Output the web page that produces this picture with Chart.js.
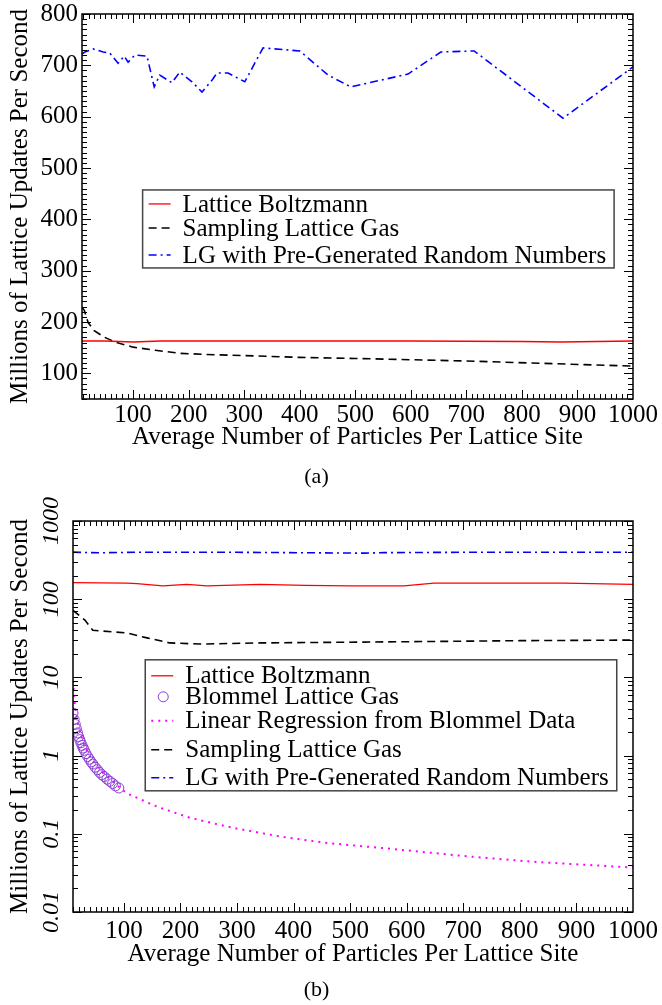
<!DOCTYPE html>
<html>
<head>
<meta charset="utf-8">
<script src="https://cdn.jsdelivr.net/npm/chart.js@4.4.1/dist/chart.umd.min.js"></script>
<style>
  body { margin: 0; background: #fff; }
  canvas { display: block; }
</style>
</head>
<body>
<canvas id="chartA" width="662" height="490"></canvas>
<canvas id="chartB" width="662" height="515"></canvas>
<script>
// ---- panel (a): linear axes ----
const xTicksA = [100, 200, 300, 400, 500, 600, 700, 800, 900, 1000];
const yTicksA = [100, 200, 300, 400, 500, 600, 700, 800];

const lbXA = [8, 50, 100, 150, 200, 400, 600, 800, 870, 1000];
const lbYA = [163, 163, 161, 163, 163, 163, 163, 162, 161, 163];

const slgXA = [8, 12, 19, 30, 49, 70, 100, 140, 184, 226, 346, 400, 500, 700, 1000];
const slgYA = [228, 223, 199, 183, 170, 160, 151, 145, 139, 137, 133, 131, 129, 124, 114];

const lgXA = [8, 13, 28, 46, 58, 73, 84, 91, 103, 125, 138, 148, 170, 184, 206, 224, 242, 251, 271, 301, 334, 400, 451, 492, 595, 654, 714, 874, 1000];
const lgYA = [722, 726, 732, 726, 724, 704, 718, 706, 720, 718, 658, 681, 666, 687, 668, 648, 671, 685, 685, 668, 734, 728, 681, 658, 683, 726, 728, 597, 697];

// ---- panel (b): log y axis ----
const xTicksB = [100, 200, 300, 400, 500, 600, 700, 800, 900, 1000];
const yTicksB = [0.01, 0.1, 1, 10, 100, 1000];
const yTickLabelsB = ['0.01', '0.1', '1', '10', '100', '1000'];

const lbXB = [10, 105, 123, 169, 211, 247, 341, 420, 500, 595, 648, 878, 1000];
const lbYB = [163, 161, 158, 148, 155, 148, 155, 150, 148, 148, 161, 161, 155];

const blomX = [10, 12, 14, 16, 18, 20, 22, 24, 26, 28, 30, 33, 36, 39, 42, 45, 49, 53, 57, 61, 65, 70, 75, 80, 85, 91];
const blomY = [3.5, 2.9, 2.5, 2.2, 1.95, 1.75, 1.6, 1.46, 1.35, 1.25, 1.17, 1.06, 0.97, 0.9, 0.83, 0.78, 0.71, 0.66, 0.61, 0.57, 0.54, 0.5, 0.47, 0.44, 0.41, 0.385];

const regX = [10, 12, 15, 20, 30, 40, 50, 60, 70, 80, 93, 105, 160, 217, 293, 381, 461, 555, 701, 820, 1000];
const regY = [9, 5.5, 3.5, 2.3, 1.35, 0.97, 0.77, 0.63, 0.54, 0.47, 0.39, 0.33, 0.22, 0.16, 0.119, 0.091, 0.076, 0.066, 0.052, 0.044, 0.037];

const slgXB = [10, 31, 45, 105, 141, 181, 235, 341, 600, 800, 1000];
const slgYB = [72, 54, 40, 37, 32, 27.6, 26.7, 27.6, 28.6, 29.5, 30];

const lgXB = [10, 55, 120, 300, 480, 524, 560, 700, 1000];
const lgYB = [400, 392, 398, 398, 390, 388, 394, 398, 398];

const FONT = "'Liberation Serif', 'DejaVu Serif', serif";

const pts = (xs, ys) => xs.map((x, i) => ({ x, y: ys[i] }));

// inward ticks on all four sides + frame
const frameTicks = {
    id: 'frameTicks',
    afterDraw(chart, args, opts) {
        const { ctx, chartArea: a, scales: { x, y } } = chart;
        ctx.save();
        ctx.strokeStyle = '#000';
        ctx.lineWidth = 1;
        const line = (x1, y1, x2, y2) => {
            ctx.beginPath(); ctx.moveTo(x1, y1); ctx.lineTo(x2, y2); ctx.stroke();
        };
        for (let v = 10; v <= 1000; v += 10) {
            const px = Math.round(x.getPixelForValue(v)) + 0.5;
            if (px < a.left || px > a.right) continue;
            const len = v % 100 === 0 ? 9 : 5;
            line(px, a.bottom, px, a.bottom - len);
            line(px, a.top, px, a.top + len);
        }
        for (const t of opts.yMinor()) {
            const py = Math.round(y.getPixelForValue(t.v)) + 0.5;
            if (py < a.top - 0.5 || py > a.bottom + 0.5) continue;
            const len = t.major ? 9 : 5;
            line(a.left, py, a.left + len, py);
            line(a.right, py, a.right - len, py);
        }
        ctx.lineWidth = 1.5;
        ctx.strokeRect(a.left, a.top, a.right - a.left, a.bottom - a.top);

        // rotated y tick labels (panel b)
        if (opts.rotLabels) {
            ctx.fillStyle = '#000';
            ctx.font = `italic 24px ${FONT}`;
            ctx.textAlign = 'center';
            ctx.textBaseline = 'middle';
            opts.rotLabels.values.forEach((v, i) => {
                const py = y.getPixelForValue(v);
                ctx.save();
                ctx.translate(a.left - 21, py);
                ctx.rotate(-Math.PI / 2);
                ctx.fillText(opts.rotLabels.text[i], 0, 0);
                ctx.restore();
            });
        }
        ctx.restore();
    }
};

// legend box placed inside the plot
const boxLegend = {
    id: 'boxLegend',
    afterDraw(chart, args, opts) {
        const { ctx, chartArea: a } = chart;
        const left = a.left + opts.left * (a.right - a.left);
        const top = a.top + opts.top * (a.bottom - a.top);
        const sets = chart.data.datasets;
        ctx.save();
        ctx.font = opts.font;
        let w = 0;
        sets.forEach(d => { w = Math.max(w, ctx.measureText(d.label).width); });
        const boxW = 40 + w + 8;
        ctx.fillStyle = '#fff';
        ctx.fillRect(left, top, boxW, opts.height);
        ctx.strokeStyle = '#444';
        ctx.lineWidth = 1.5;
        ctx.strokeRect(left, top, boxW, opts.height);
        sets.forEach((d, i) => {
            const cy = top + opts.rows[i];
            ctx.strokeStyle = d.borderColor;
            ctx.lineWidth = d.borderWidth;
            if (d.showLine === false) {
                ctx.setLineDash([]);
                ctx.beginPath();
                ctx.arc(left + 18, cy, d.pointRadius, 0, Math.PI * 2);
                ctx.stroke();
            } else {
                ctx.setLineDash(d.borderDash || []);
                ctx.beginPath();
                ctx.moveTo(left + 6, cy);
                ctx.lineTo(left + 28, cy);
                ctx.stroke();
            }
            ctx.setLineDash([]);
            ctx.fillStyle = '#000';
            ctx.textBaseline = 'middle';
            ctx.fillText(d.label, left + 40, cy + 1);
        });
        ctx.restore();
    }
};

const lineSet = (label, data, color, dash, width) => ({
    label, data, borderColor: color, borderDash: dash, borderWidth: width,
    pointRadius: 0, tension: 0, fill: false
});

const xAxis = (min, ticks, height, tickPad, titlePad) => ({
    type: 'linear', min, max: 1000,
    afterBuildTicks: s => { s.ticks = ticks.map(v => ({ value: v })); },
    afterFit: s => { s.height = height; s.paddingLeft = 0; s.paddingRight = 0; },
    grid: { display: false, drawTicks: false },
    border: { display: false },
    ticks: { color: '#000', font: { family: FONT, size: 25 }, padding: tickPad, maxRotation: 0, callback: v => String(v) },
    title: { display: true, text: 'Average Number of Particles Per Lattice Site', color: '#000', font: { family: FONT, size: 25 }, padding: { top: 0, bottom: titlePad } }
});

const yTitle = { display: true, text: 'Millions of Lattice Updates Per Second', color: '#000', font: { family: FONT, size: 25 }, padding: { top: 5, bottom: 0 } };

new Chart(document.getElementById('chartA'), {
    type: 'line',
    data: {
        datasets: [
            lineSet('Lattice Boltzmann', pts(lbXA, lbYA), '#ff0000', [], 1.3),
            lineSet('Sampling Lattice Gas', pts(slgXA, slgYA), '#000000', [8, 5], 1.6),
            lineSet('LG with Pre-Generated Random Numbers', pts(lgXA, lgYA), '#0000ff', [8, 4, 2, 4], 1.6)
        ]
    },
    options: {
        responsive: false,
        animation: false,
        layout: { padding: { top: 14, right: 29, left: 0, bottom: 0 } },
        scales: {
            x: xAxis(8, xTicksA, 64.6, 1, 11.5),
            y: {
                type: 'linear', min: 50, max: 800,
                afterBuildTicks: s => { s.ticks = yTicksA.map(v => ({ value: v })); },
                afterFit: s => { s.width = 82; s.paddingTop = 0; s.paddingBottom = 0; },
                grid: { display: false, drawTicks: false },
                border: { display: false },
                ticks: { color: '#000', font: { family: FONT, size: 25 }, padding: 4 },
                title: yTitle
            }
        },
        plugins: {
            legend: { display: false },
            tooltip: { enabled: false },
            title: { display: true, position: 'bottom', text: '(a)', color: '#000', font: { family: FONT, size: 22, weight: 'normal' }, padding: 0 },
            frameTicks: {
                yMinor: () => {
                    const out = [];
                    for (let v = 50; v <= 800; v += 10) out.push({ v, major: v % 100 === 0 });
                    return out;
                }
            },
            boxLegend: { left: 0.11, top: 0.457, rows: [14, 38, 65], height: 78, font: `25px ${FONT}` }
        }
    },
    plugins: [frameTicks, boxLegend]
});

new Chart(document.getElementById('chartB'), {
    type: 'line',
    data: {
        datasets: [
            lineSet('Lattice Boltzmann', pts(lbXB, lbYB), '#ff0000', [], 1.3),
            {
                label: 'Blommel Lattice Gas', data: pts(blomX, blomY), showLine: false,
                borderColor: '#8a3fd6', backgroundColor: 'rgba(0,0,0,0)', borderWidth: 1,
                pointRadius: 5, pointStyle: 'circle'
            },
            lineSet('Linear Regression from Blommel Data', pts(regX, regY), '#ff00ff', [2, 5], 2),
            lineSet('Sampling Lattice Gas', pts(slgXB, slgYB), '#000000', [8, 5], 1.6),
            lineSet('LG with Pre-Generated Random Numbers', pts(lgXB, lgYB), '#0000ff', [8, 4, 2, 4], 1.6)
        ]
    },
    options: {
        responsive: false,
        animation: false,
        layout: { padding: { top: 31, right: 29, left: 0, bottom: 1.8 } },
        scales: {
            x: xAxis(10, xTicksB, 64.8, 4, 7.5),
            y: {
                type: 'logarithmic', min: 0.01, max: 1000,
                afterBuildTicks: s => { s.ticks = yTicksB.map(v => ({ value: v })); },
                afterFit: s => { s.width = 73; s.paddingTop = 0; s.paddingBottom = 0; },
                grid: { display: false, drawTicks: false },
                border: { display: false },
                ticks: { display: false },
                title: yTitle
            }
        },
        plugins: {
            legend: { display: false },
            tooltip: { enabled: false },
            title: { display: true, position: 'bottom', text: '(b)', color: '#000', font: { family: FONT, size: 22, weight: 'normal' }, padding: 0 },
            frameTicks: {
                yMinor: () => {
                    const out = [];
                    for (const d of [0.01, 0.1, 1, 10, 100]) {
                        for (let k = 1; k <= 9; k++) out.push({ v: k * d, major: k === 1 });
                    }
                    out.push({ v: 1000, major: true });
                    return out;
                },
                rotLabels: { values: yTicksB, text: yTickLabelsB }
            },
            boxLegend: { left: 0.129, top: 0.355, rows: [16, 37, 61, 90, 118], height: 131, font: `25px ${FONT}` }
        }
    },
    plugins: [frameTicks, boxLegend]
});
</script>
</body>
</html>
